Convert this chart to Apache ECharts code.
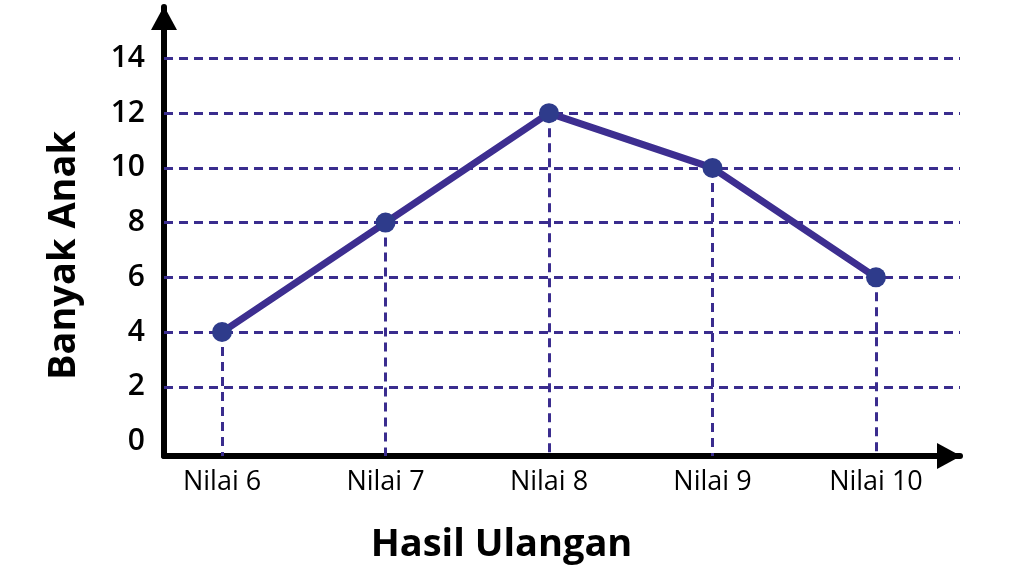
<!DOCTYPE html>
<html><head><meta charset="utf-8">
<script src="https://cdn.jsdelivr.net/npm/echarts@6/dist/echarts.min.js"></script>
<style>html,body{margin:0;padding:0;background:#fff}#c{width:1024px;height:576px}</style>
</head><body><div id="c"></div>
<script>
const categories = ['Nilai 6', 'Nilai 7', 'Nilai 8', 'Nilai 9', 'Nilai 10'];
const values = [4, 8, 12, 10, 6];
const yTicks = [0, 2, 4, 6, 8, 10, 12, 14];
const gridValues = [2, 4, 6, 8, 10, 12, 14];
const xAxisName = 'Hasil Ulangan';
const yAxisName = 'Banyak Anak';

const X_MIN = -0.355, X_MAX = 4.514, Y_MIN = -0.53, Y_MAX = 15.88;
const dashColor = '#3a2c8e';
const font = 'Open Sans';

const points = values.map((v, i) => [i, v]);
const hLines = gridValues.map(v => ({ yAxis: v }));
const vLines = points.map(p => [{ coord: [p[0], p[1]] }, { coord: [p[0], Y_MIN] }]);

const chart = echarts.init(document.getElementById('c'), null, { renderer: 'canvas' });
chart.setOption({
  animation: false,
  backgroundColor: '#ffffff',
  grid: { left: 164, right: 64, top: 7, bottom: 120, containLabel: false },
  xAxis: {
    type: 'value', min: X_MIN, max: X_MAX,
    name: xAxisName, nameLocation: 'middle', nameGap: 70,
    nameTextStyle: { fontFamily: font, fontSize: 38, fontWeight: 'bold', color: '#000', padding: [0, 121, 0, 0] },
    axisLine: { show: true, onZero: false, lineStyle: { color: '#000', width: 6 }, symbol: ['none', 'triangle'], symbolSize: [26, 24], symbolOffset: [0, -11] },
    axisTick: { show: false },
    splitLine: { show: false },
    axisLabel: {
      customValues: categories.map((c, i) => i),
      formatter: v => categories[Math.round(v)] || '',
      fontFamily: font, fontSize: 27, fontWeight: 500, color: '#000', margin: 13
    }
  },
  yAxis: {
    type: 'value', min: Y_MIN, max: Y_MAX,
    name: yAxisName, nameLocation: 'middle', nameGap: 81, nameRotate: 90,
    nameTextStyle: { fontFamily: font, fontSize: 38, fontWeight: 'bold', color: '#000', padding: [0, 48, 0, 0] },
    axisLine: { show: true, onZero: false, lineStyle: { color: '#000', width: 6 }, symbol: ['none', 'triangle'], symbolSize: [26, 24], symbolOffset: [0, -11] },
    axisTick: { show: false },
    splitLine: { show: false },
    axisLabel: {
      customValues: yTicks,
      fontFamily: font, fontSize: 30, fontWeight: 600, color: '#000', margin: 19
    }
  },
  series: [{
    type: 'line',
    data: points,
    symbol: 'circle', symbolSize: 20,
    lineStyle: { color: '#3d2e90', width: 7 },
    itemStyle: { color: '#2e3b8b' },
    z: 5,
    markLine: {
      silent: true, symbol: 'none', label: { show: false },
      lineStyle: { color: dashColor, type: [9, 6], width: 3 },
      data: hLines.concat(vLines),
      z: 1
    }
  }]
});
</script></body></html>
